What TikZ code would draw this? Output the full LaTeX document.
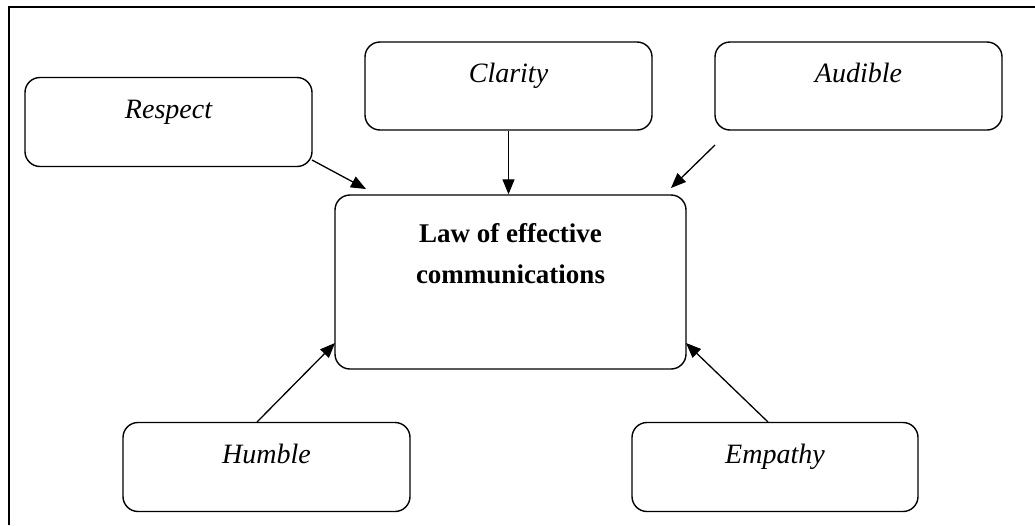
\documentclass[tikz,border=0pt]{standalone}
\usepackage{fontspec}
\setmainfont{Liberation Serif}
\usetikzlibrary{arrows.meta}
\begin{document}
\begin{tikzpicture}[x=1pt,y=-1pt,
  box/.style={draw,line width=1.4pt,rounded corners=15pt,inner sep=0pt},
  lbl/.style={anchor=base,font=\fontsize{28}{41}\selectfont\itshape,inner sep=0pt},
  conn/.style={line width=1.3pt,-{Triangle[length=15pt,width=12pt]}}]
\useasboundingbox (0,0) rectangle (1035,525);
\draw[line width=2.2pt] (9,525) -- (9,7) -- (1035,7);
% boxes
\node[box,minimum width=287,minimum height=89] (respect) at (168.5,122) {};
\node[box,minimum width=287,minimum height=88] (clarity) at (508.5,86) {};
\node[box,minimum width=287,minimum height=88] (audible) at (858.5,86) {};
\node[box,minimum width=351,minimum height=174] (law) at (510.5,282) {};
\node[box,minimum width=287,minimum height=89] (humble) at (266.5,467) {};
\node[box,minimum width=286,minimum height=89] (empathy) at (775,467) {};
% texts
\node[lbl] (respectT) at (168.5,118) {Respect};
\node[lbl] (clarityT) at (508.5,82) {Clarity};
\node[lbl] (audibleT) at (858.5,82) {Audible};
\node[lbl] (humbleT) at (266.5,463) {Humble};
\node[lbl] (empathyT) at (775,463) {Empathy};
\node[anchor=base,align=center,inner sep=0pt,font=\fontsize{27}{41}\selectfont\bfseries] (lawT) at (510.5,283) {Law of effective\\communications};
% connector end points
\coordinate (rs) at (312,160);
\coordinate (rt) at (366,189);
\coordinate (as) at (715,145);
\coordinate (at') at (671,188);
\coordinate (hs) at (257,422);
\coordinate (ht) at (335,343);
\coordinate (es) at (768,422);
\coordinate (et) at (686,343);
% connectors
\draw[conn] (rs) -- (rt);
\draw[conn] (clarity.south) -- (clarity.south |- law.north);
\draw[conn] (as) -- (at');
\draw[conn] (hs) -- (ht);
\draw[conn] (es) -- (et);
\end{tikzpicture}
\end{document}
